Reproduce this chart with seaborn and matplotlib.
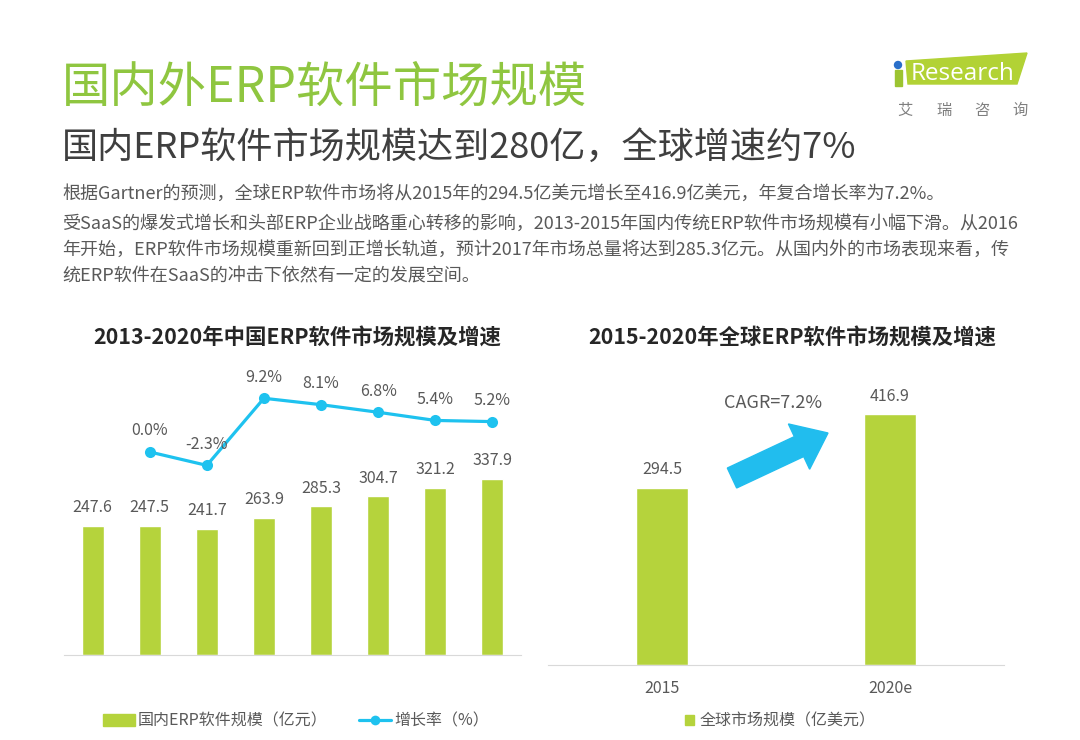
import numpy as np
import pandas as pd
import seaborn as sns
import matplotlib.pyplot as plt
from matplotlib.patches import Polygon, Rectangle, Circle, FancyArrow, Patch
from matplotlib.lines import Line2D

# data
cn_years = ["2013", "2014", "2015", "2016", "2017e", "2018e", "2019e", "2020e"]
cn_size = [247.6, 247.5, 241.7, 263.9, 285.3, 304.7, 321.2, 337.9]
cn_growth_years = ["2014", "2015", "2016", "2017e", "2018e", "2019e", "2020e"]
cn_growth = [0.0, -2.3, 9.2, 8.1, 6.8, 5.4, 5.2]
gl_years = ["2015", "2020e"]
gl_size = [294.5, 416.9]

GREEN = "#b5d33c"
CYAN = "#1ec2ef"
GREY = "#595959"

sns.set_style("white")
plt.rcParams['font.family'] = ['Noto Sans CJK SC', 'DejaVu Sans']

fig = plt.figure(figsize=(10.8, 7.4), dpi=100)

def fx(px):
    return px / 1080

def fy(py):
    return 1 - py / 740

# header
fig.text(fx(62), fy(88), "国内外ERP软件市场规模", fontsize=34.8, color="#8fc640", va="center", ha="left")
fig.text(fx(62), fy(148), "国内ERP软件市场规模达到280亿，全球增速约7%", fontsize=26, color="#3f3f3f", va="center", ha="left")
body = [
    "根据Gartner的预测，全球ERP软件市场将从2015年的294.5亿美元增长至416.9亿美元，年复合增长率为7.2%。",
    "受SaaS的爆发式增长和头部ERP企业战略重心转移的影响，2013-2015年国内传统ERP软件市场规模有小幅下滑。从2016",
    "年开始，ERP软件市场规模重新回到正增长轨道，预计2017年市场总量将达到285.3亿元。从国内外的市场表现来看，传",
    "统ERP软件在SaaS的冲击下依然有一定的发展空间。",
]
for line, py in zip(body, [194, 224, 250, 276]):
    fig.text(fx(62), fy(py), line, fontsize=13, color=GREY, va="center", ha="left")

# logo
fig.add_artist(Polygon([(fx(906), fy(61)), (fx(1027), fy(53)), (fx(1017), fy(84)), (fx(908), fy(84))],
                       closed=True, color="#b2d235", transform=fig.transFigure))
fig.add_artist(Rectangle((fx(895), fy(86)), fx(7), 16 / 740, color="#9cc431", transform=fig.transFigure))
fig.add_artist(Circle((8.98, 7.4 - 0.65), 0.035, color="#2a6fc9", transform=fig.dpi_scale_trans))
fig.text(fx(911), fy(74), "Research", fontsize=17.5, color="white", va="center", ha="left", family="Open Sans")
for ch, px in zip(["艾", "瑞", "咨", "询"], [905, 944, 982, 1020]):
    fig.text(fx(px), fy(110), ch, fontsize=11, color="#7f7f7f", va="center", ha="center")

# left chart
ax = fig.add_axes([fx(64), fy(655), 457 / 1080, 325 / 740])
df_cn = pd.DataFrame({"year": cn_years, "size": cn_size})
sns.barplot(data=df_cn, x="year", y="size", ax=ax, color=GREEN, saturation=1, width=0.385)
ax.set_xlim(-0.5, 7.5)
ax.set_ylim(0, 624)
ax.bar_label(ax.containers[0], labels=[f"{v:.1f}" for v in cn_size], padding=7, fontsize=11.5, color=GREY)

ax2 = ax.twinx()
df_g = pd.DataFrame({"pos": [cn_years.index(y) for y in cn_growth_years], "growth": cn_growth})
sns.lineplot(data=df_g, x="pos", y="growth", ax=ax2, color=CYAN, linewidth=2.3,
             marker="o", markersize=8, markeredgewidth=0)
ax2.set_ylim(-34.8, 20.9)
for p, g in zip(df_g["pos"], df_g["growth"]):
    ax2.annotate(f"{g:.1f}%", (p, g), xytext=(0, 9), textcoords="offset points",
                 ha="center", va="bottom", fontsize=11.5, color=GREY)

for a in (ax, ax2):
    a.set_xlabel("")
    a.set_ylabel("")
    a.set_yticks([])
    for s in a.spines.values():
        s.set_visible(False)
ax.spines["bottom"].set_visible(True)
ax.spines["bottom"].set_color("#d9d9d9")
ax.tick_params(axis="x", length=0, pad=9, labelsize=11.5, labelcolor=GREY)
ax2.set_xticks([])
ax.patch.set_alpha(0)
ax2.patch.set_alpha(0)

fig.text(fx(297), fy(338), "2013-2020年中国ERP软件市场规模及增速", fontsize=15.4, fontweight="bold",
         color="#262626", ha="center", va="center")

fig.legend(handles=[Patch(color=GREEN),
                    Line2D([0], [0], color=CYAN, lw=2.3, marker="o", markersize=7, markeredgewidth=0)],
           labels=["国内ERP软件规模（亿元）", "增长率（%）"], loc="center", bbox_to_anchor=(fx(296), fy(721)),
           ncol=2, frameon=False, fontsize=11.5, labelcolor=GREY, handlelength=2.0, handleheight=0.7,
           handletextpad=0.2, columnspacing=2.0)

# right chart
bx = fig.add_axes([fx(548), fy(665), 456 / 1080, 335 / 740])
df_gl = pd.DataFrame({"year": gl_years, "size": gl_size})
sns.barplot(data=df_gl, x="year", y="size", ax=bx, color=GREEN, saturation=1, width=0.228)
bx.set_xlim(-0.5, 1.5)
bx.set_ylim(0, 557)
bx.bar_label(bx.containers[0], labels=[f"{v:.1f}" for v in gl_size], padding=7, fontsize=11.5, color=GREY)
bx.set_xlabel("")
bx.set_ylabel("")
bx.set_yticks([])
for s in bx.spines.values():
    s.set_visible(False)
bx.spines["bottom"].set_visible(True)
bx.spines["bottom"].set_color("#d9d9d9")
bx.tick_params(axis="x", length=0, pad=11, labelsize=11.5, labelcolor=GREY)
bx.patch.set_alpha(0)

fig.text(fx(792), fy(338), "2015-2020年全球ERP软件市场规模及增速", fontsize=15.4, fontweight="bold",
         color="#262626", ha="center", va="center")
fig.text(fx(773), fy(403), "CAGR=7.2%", fontsize=13, color=GREY, ha="center", va="center")
fig.add_artist(FancyArrow(7.32, 7.4 - 4.78, 0.96, 0.45, width=0.22, head_width=0.5, head_length=0.32,
                          length_includes_head=True, color="#21bdee", transform=fig.dpi_scale_trans))

fig.legend(handles=[Patch(color=GREEN)], labels=["全球市场规模（亿美元）"], loc="center",
           bbox_to_anchor=(fx(780), fy(721)), frameon=False, fontsize=11.5, labelcolor=GREY,
           handlelength=0.6, handleheight=0.6, handletextpad=0.3)

fig.savefig("out.png", dpi=100)
